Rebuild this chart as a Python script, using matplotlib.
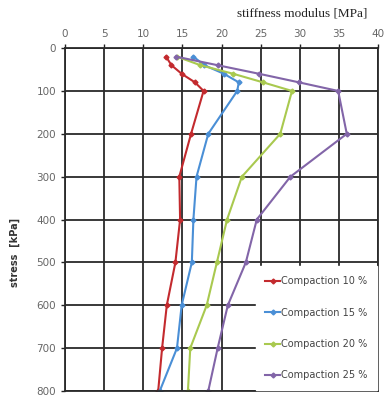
import numpy as np
import matplotlib.pyplot as plt

stress = [20, 40, 60, 80, 100, 200, 300, 400, 500, 600, 700, 800]

comp10 = [12.9, 13.6, 14.9, 16.6, 17.7, 16.1, 14.6, 14.7, 14.1, 13.0, 12.4, 11.9]
comp15 = [16.4, 17.8, 20.3, 22.2, 22.0, 18.3, 16.8, 16.4, 16.2, 14.9, 14.3, 12.1]
comp20 = [14.3, 17.3, 21.5, 25.3, 29.0, 27.5, 22.6, 20.7, 19.4, 18.1, 16.0, 15.7]
comp25 = [14.2, 19.5, 24.8, 29.9, 34.9, 36.0, 28.8, 24.5, 23.1, 20.8, 19.5, 18.3]

labels = ["Compaction 10 %", "Compaction 15 %", "Compaction 20 %", "Compaction 25 %"]
colors = ["#c32a2e", "#4a8fd6", "#a9c94f", "#8265a8"]

fig = plt.figure(figsize=(3.85, 3.96), dpi=100)
ax = fig.add_axes([0.169, 0.0126, 0.813, 0.866])

for vals, lab, c in zip([comp10, comp15, comp20, comp25], labels, colors):
    ax.plot(vals, stress, color=c, lw=1.5, marker="D", markersize=2.5, label=lab)

ax.set_xlim(0, 40)
ax.set_ylim(800, 0)
ax.set_xticks(np.arange(0, 41, 5))
ax.set_yticks(np.arange(0, 801, 100))
ax.xaxis.tick_top()
ax.tick_params(axis="both", labelsize=7.5, colors="#222222", labelcolor="#666666",
               length=3, width=1)
ax.grid(True, color="#2a2a2a", lw=1.3)
for s in ax.spines.values():
    s.set_color("#2a2a2a")
    s.set_linewidth(1.3)

ax.set_ylabel("stress  [kPa]", fontsize=7, fontweight="bold", color="#333333")
ax.yaxis.set_label_coords(-0.145, 0.405)
fig.text(0.953, 0.967, "stiffness modulus [MPa]", family="Liberation Serif",
         fontsize=9.5, ha="right", va="center", color="#222222")

leg = ax.legend(loc="lower right", fontsize=7, frameon=True, fancybox=False,
                edgecolor="white", framealpha=1, handlelength=1.5, handletextpad=0.1,
                labelspacing=2.2, borderaxespad=0.1, borderpad=1.0)
for t in leg.get_texts():
    t.set_color("#444444")

fig.savefig("out.png", dpi=100)
